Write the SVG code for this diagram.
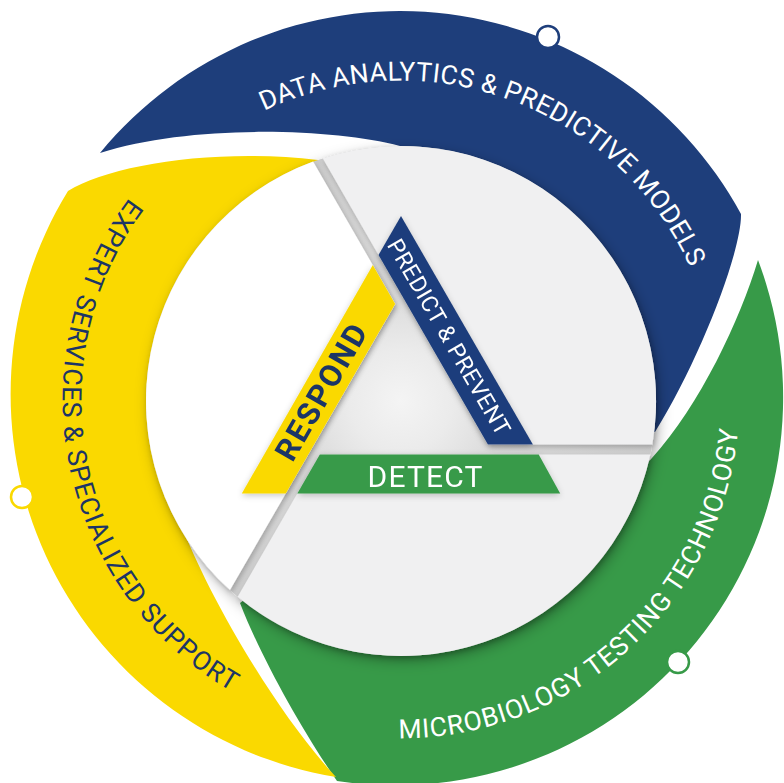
<svg xmlns="http://www.w3.org/2000/svg" width="784" height="783" viewBox="0 0 784 783">
  <style>
    .blue { fill: #1e3e7b; }
    .green { fill: #379a48; }
    .yellow { fill: #fad900; }
    .arc-label { font-family: Roboto, "Liberation Sans", sans-serif; font-size: 26.5px; }
    .band-label { font-family: Roboto, "Liberation Sans", sans-serif; }
    .dot { fill: #ffffff; stroke-width: 2.5; }
  </style>
  <defs>
    <filter id="discShadow" x="-20%" y="-20%" width="140%" height="140%">
      <feDropShadow dx="3" dy="5" stdDeviation="7" flood-color="#000" flood-opacity="0.3"/>
    </filter>
    <filter id="pieceShadow" x="-10%" y="-10%" width="120%" height="120%">
      <feDropShadow dx="1.5" dy="2.5" stdDeviation="2.5" flood-color="#000" flood-opacity="0.22"/>
    </filter>
    <filter id="bandShadow" x="-20%" y="-20%" width="140%" height="140%">
      <feDropShadow dx="0" dy="2" stdDeviation="3" flood-color="#000" flood-opacity="0.22"/>
    </filter>
    <radialGradient id="recess" gradientUnits="userSpaceOnUse" cx="401" cy="401" r="255">
      <stop offset="0" stop-color="#f4f4f4"/>
      <stop offset="0.2" stop-color="#ebebeb"/>
      <stop offset="0.45" stop-color="#d8d8d8"/>
      <stop offset="1" stop-color="#cbcbcb"/>
    </radialGradient>
    <!-- baselines for the curved ring labels -->
    <path id="arcTop" d="M 81.4,399 A 318.6 318.6 0 0 1 718.6,399"/>
    <path id="arcBottom" d="M 60.6,399 A 339.4 339.4 0 0 0 739.4,399"/>
    <path id="arcLeft" d="M 400,61.6 A 337.4 337.4 0 0 0 400,736.4"/>
  </defs>

  <!-- outer ring: three swooshes -->
  <g id="ring-data-analytics">
    <path class="blue" d="M 100,153 A 388 388 0 0 1 741,214 C 742,250 700,360 655,432 L 560,400 L 420,220 L 400,146 C 330,128 190,124 100,153 Z"/>
    <circle class="dot" cx="548" cy="37" r="11" stroke="#1e3e7b"/>
    <text class="arc-label" fill="#ffffff"><textPath href="#arcTop" startOffset="61.2%" text-anchor="middle" textLength="505" lengthAdjust="spacing">DATA ANALYTICS &amp; PREDICTIVE MODELS</textPath></text>
  </g>
  <g id="ring-microbiology">
    <path class="green" d="M 758,260 A 388 388 0 0 1 337,781 C 305,735 262,660 240,603 L 300,560 L 560,560 L 652,458 C 700,405 740,320 758,260 Z"/>
    <circle class="dot" cx="678" cy="662" r="11" stroke="#379a48"/>
    <text class="arc-label" fill="#ffffff"><textPath href="#arcBottom" startOffset="73.5%" text-anchor="middle" textLength="503" lengthAdjust="spacing">MICROBIOLOGY TESTING TECHNOLOGY</textPath></text>
  </g>
  <g id="ring-expert-services">
    <path class="yellow" d="M 336,777 A 388 388 0 0 1 68,191 C 110,165 215,148 318,160 L 330,300 L 250,480 L 180,521 C 205,590 275,712 336,777 Z"/>
    <circle class="dot" cx="22" cy="497" r="11" stroke="#fad900"/>
    <text class="arc-label" fill="#1d3566"><textPath href="#arcLeft" startOffset="56.5%" text-anchor="middle" textLength="569" lengthAdjust="spacing">EXPERT SERVICES &amp; SPECIALIZED SUPPORT</textPath></text>
  </g>

  <!-- central disc split into three shutter pieces around a triangular recess -->
  <g id="disc">
    <circle cx="401" cy="401" r="255" fill="url(#recess)" filter="url(#discShadow)"/>
    <g filter="url(#pieceShadow)">
      <path id="piece-top" fill="#f0f0f1" d="M 322.7,158.3 L 487.9,444.5 L 652.3,444.5 A 255 255 0 0 0 322.7,158.3 Z"/>
      <path id="piece-bottom" fill="#f0f0f1" d="M 319.8,454.5 L 650.3,454.5 A 255 255 0 0 1 237.7,596.8 Z"/>
      <path id="piece-left" fill="#ffffff" d="M 313.1,161.6 L 395.2,303.9 L 230,590.1 A 255 255 0 0 1 313.1,161.6 Z"/>
    </g>
  </g>

  <!-- triangle of three bands -->
  <g id="band-predict" filter="url(#bandShadow)">
    <polygon class="blue" points="401,216 532.9,444.5 487.9,444.5 378.5,255"/>
    <text class="band-label" font-size="23" fill="#ffffff" text-anchor="middle" transform="translate(449,337) rotate(60)" y="8" textLength="222" lengthAdjust="spacing">PREDICT &amp; PREVENT</text>
  </g>
  <g id="band-respond" filter="url(#bandShadow)">
    <polygon class="yellow" points="372.8,264.9 395.2,303.9 285.8,493.5 241.8,493.5"/>
    <text class="band-label" font-size="31" font-weight="700" fill="#1d3566" text-anchor="middle" transform="translate(321,392) rotate(-60)" y="11" textLength="152" lengthAdjust="spacing">RESPOND</text>
  </g>
  <g id="band-detect" filter="url(#bandShadow)">
    <polygon class="green" points="319.8,454.5 538.7,454.5 560.2,493.5 297.3,493.5"/>
    <text class="band-label" font-size="30" fill="#ffffff" text-anchor="middle" x="425" y="487" textLength="115" lengthAdjust="spacing">DETECT</text>
  </g>
</svg>
